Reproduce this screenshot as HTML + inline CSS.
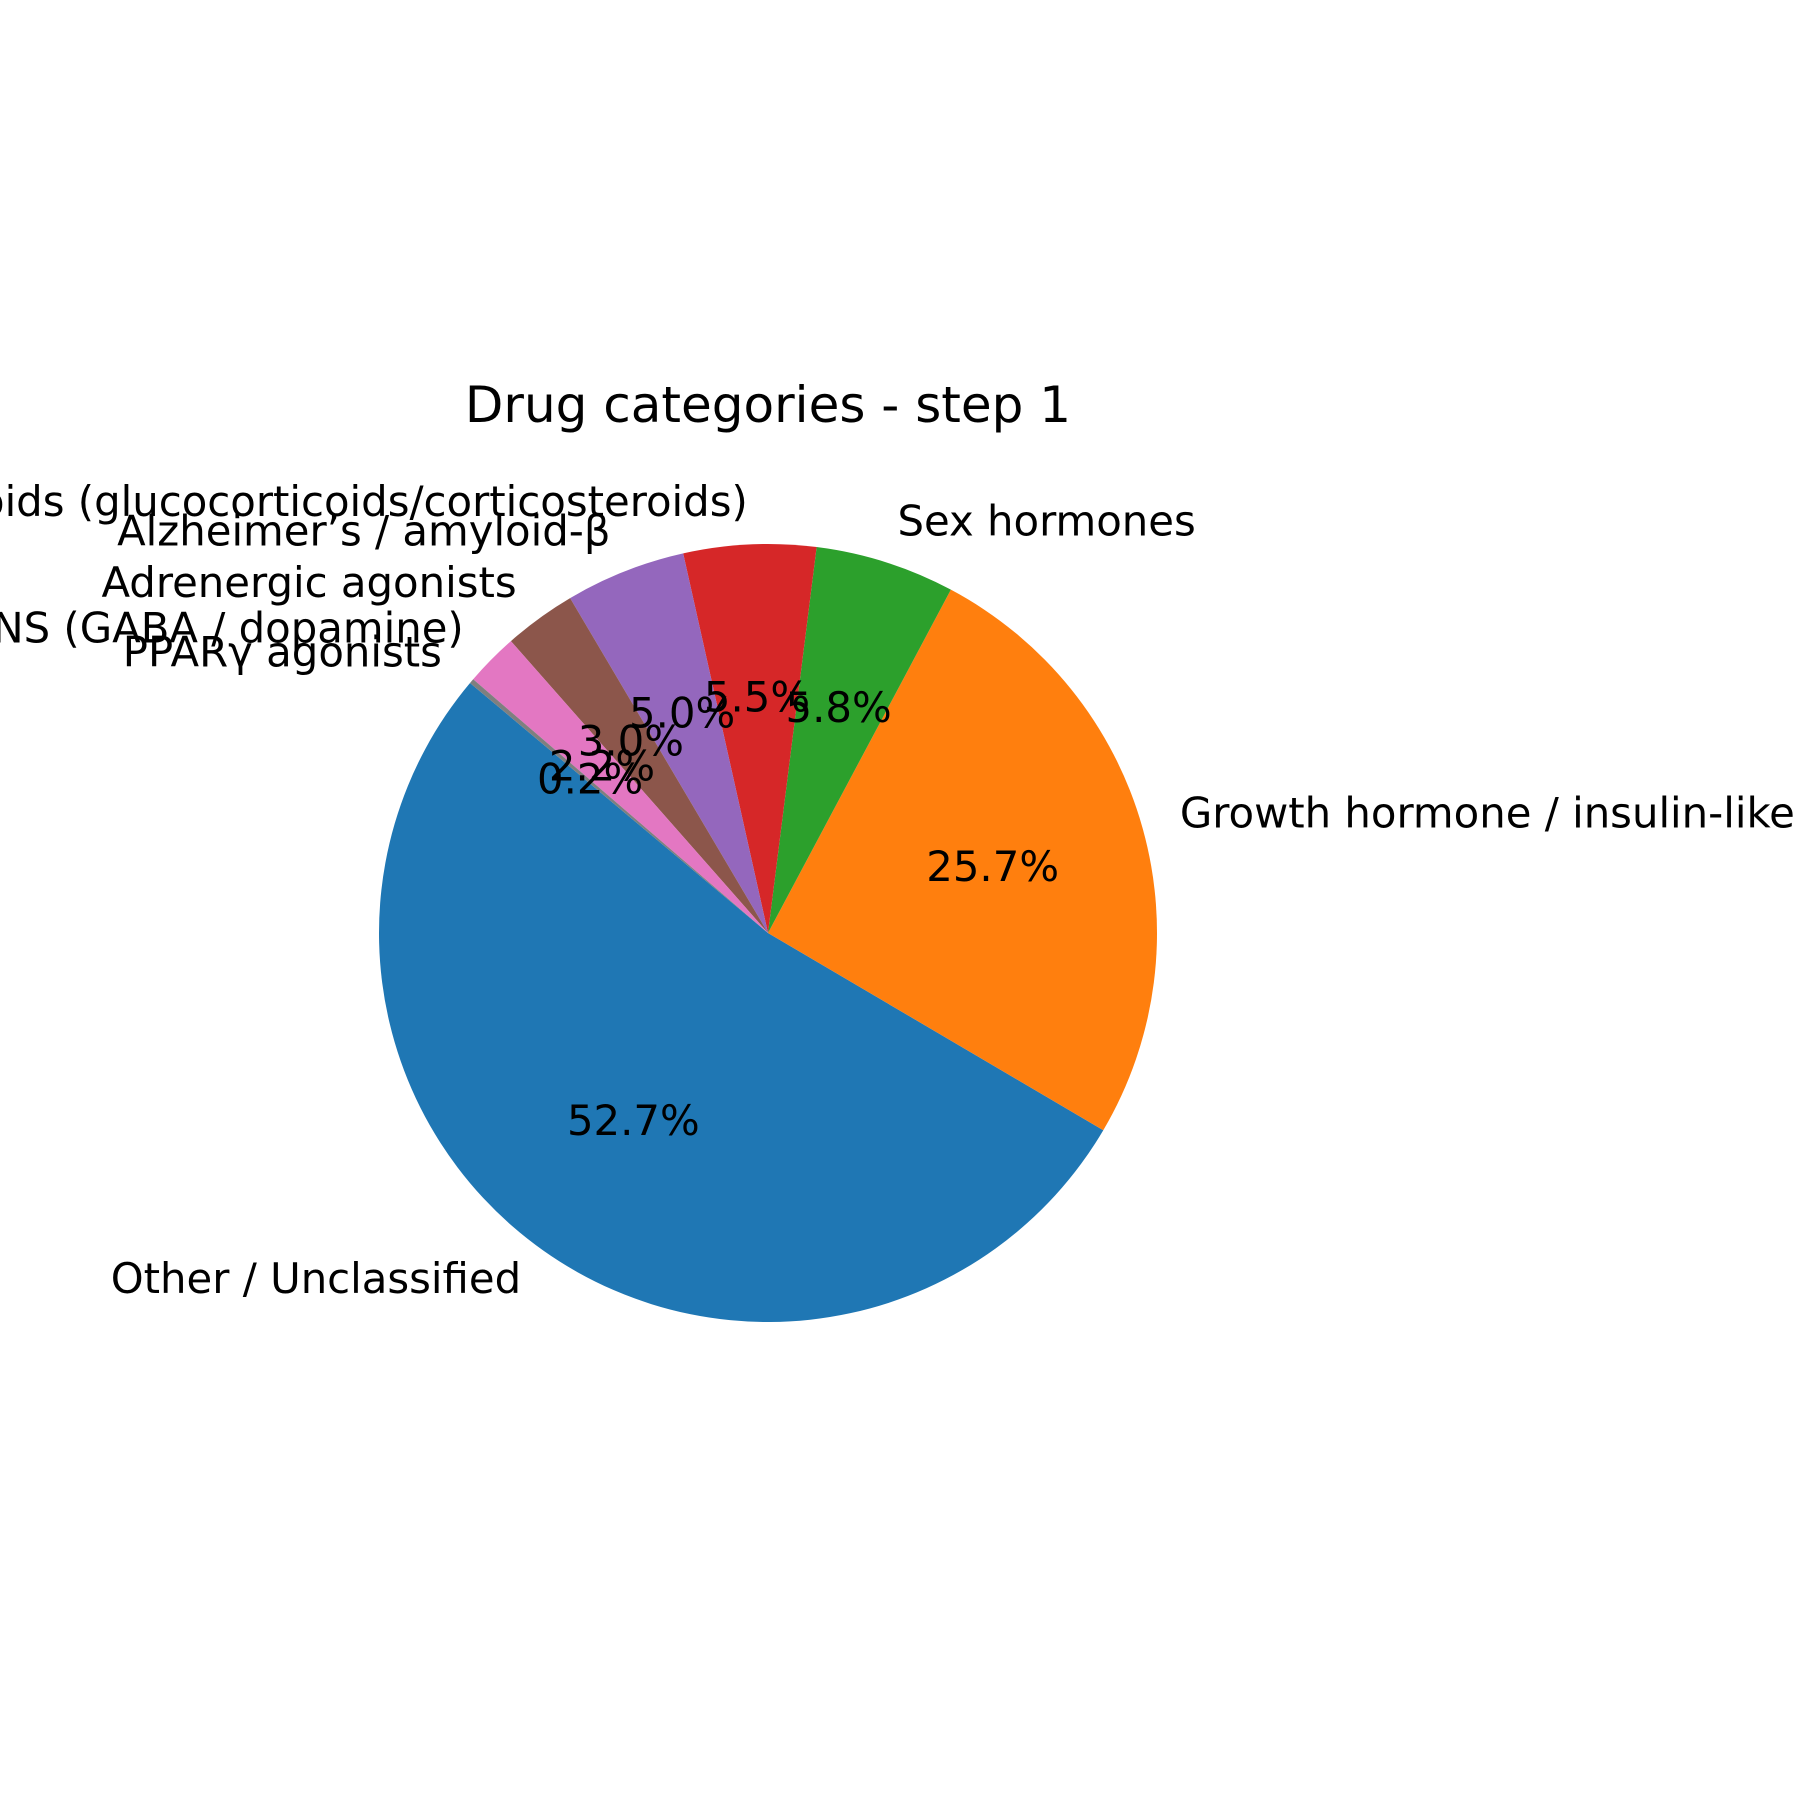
<!DOCTYPE html>
<html><head><meta charset="utf-8"><style>
html,body{margin:0;padding:0;background:#fff;}
svg{display:block;}
text{font-family:"DejaVu Sans","Liberation Sans",sans-serif;fill:#000;}
</style></head><body>
<svg id="chart" width="1800" height="1800" viewBox="0 0 1800 1800">
<rect width="1800" height="1800" fill="#fff"></rect>
<text x="768" y="405" font-size="50" text-anchor="middle" dominant-baseline="central">Drug categories - step 1</text>
<g id="wedges"></g>
<g id="labels"></g>
</svg>
<script>
const categories = ["Other / Unclassified","Growth hormone / insulin-like growth factor","Sex hormones","Steroids (glucocorticoids/corticosteroids)","Alzheimer’s / amyloid-β","Adrenergic agonists","CNS (GABA / dopamine)","PPARγ agonists"];
const values = [52.7,25.7,5.8,5.5,5.0,3.0,2.2,0.2];
const pctLabels = ["52.7%","25.7%","5.8%","5.5%","5.0%","3.0%","2.2%","0.2%"];
const colors = ["#1f77b4","#ff7f0e","#2ca02c","#d62728","#9467bd","#8c564b","#e377c2","#7f7f7f"];
const cx=768, cy=933, R=389, startAngle=140;
const NS="http://www.w3.org/2000/svg";
const wg=document.getElementById('wedges'), lg=document.getElementById('labels');
const total=values.reduce((a,b)=>a+b,0);
function pt(deg,r){const a=deg*Math.PI/180;return [cx+r*Math.cos(a), cy-r*Math.sin(a)];}
let ang=startAngle;
values.forEach((v,i)=>{
  const sweep=v/total*360, a0=ang, a1=ang+sweep, mid=(a0+a1)/2;
  const p0=pt(a0,R), p1=pt(a1,R);
  const large=sweep>180?1:0;
  const path=document.createElementNS(NS,'path');
  path.setAttribute('d',`M${cx},${cy} L${p0[0]},${p0[1]} A${R},${R} 0 ${large} 0 ${p1[0]},${p1[1]} Z`);
  path.setAttribute('fill',colors[i]);
  
  
  wg.appendChild(path);
  const lp=pt(mid,R*1.1);
  const t=document.createElementNS(NS,'text');
  t.setAttribute('x',lp[0]);t.setAttribute('y',lp[1]-4);
  t.setAttribute('font-size','41.8');
  t.setAttribute('dominant-baseline','central');
  t.setAttribute('text-anchor',Math.cos(mid*Math.PI/180)>0?'start':'end');
  t.textContent=categories[i];
  
  
  lg.appendChild(t);
  const pp=pt(mid,R*0.6);
  const p=document.createElementNS(NS,'text');
  p.setAttribute('x',pp[0]);p.setAttribute('y',pp[1]-3);
  p.setAttribute('font-size','41.8');
  p.setAttribute('dominant-baseline','central');
  p.setAttribute('text-anchor','middle');
  p.textContent=pctLabels[i];
  
  
  lg.appendChild(p);
  ang=a1;
});
</script>
</body></html>
